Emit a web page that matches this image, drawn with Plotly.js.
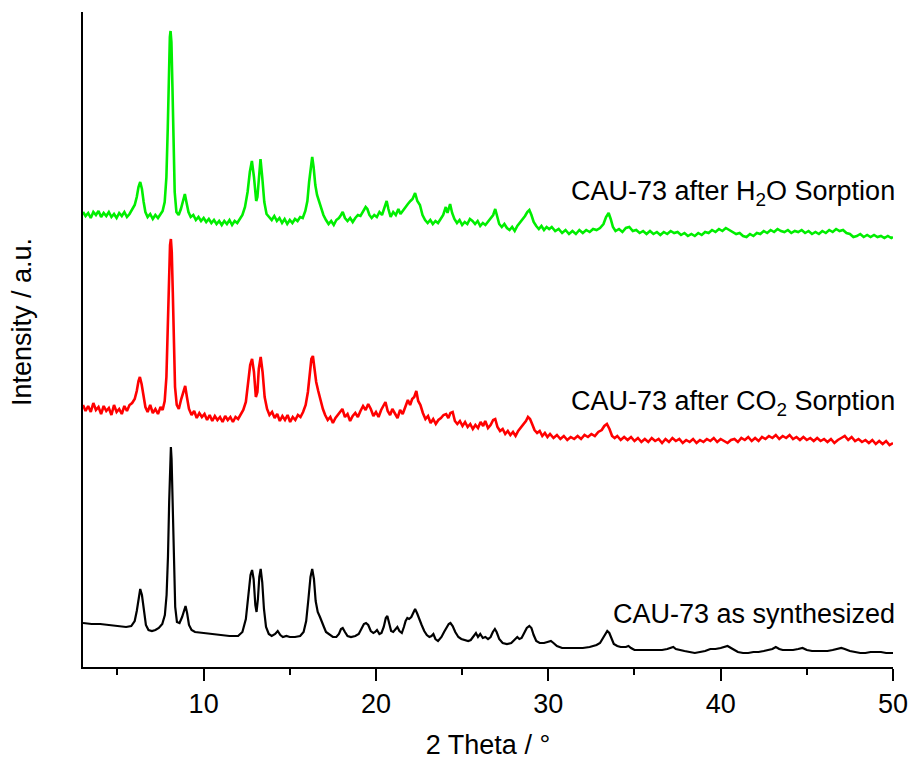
<!DOCTYPE html>
<html>
<head>
<meta charset="utf-8">
<script src="https://cdn.plot.ly/plotly-3.0.1.min.js"></script>
<style>html,body{margin:0;padding:0;background:#fff;}#chart{width:914px;height:760px;}</style>
</head>
<body>
<div id="chart"></div>
<script>
// [2 Theta (deg), stacked intensity (a.u.)]
const synthPoints = [[3.0,44],[3.5,43],[4.0,43],[4.5,42],[5.0,41],[5.5,40],[5.8,41],[6.0,46],[6.12,56],[6.22,70],[6.32,78],[6.42,72],[6.52,56],[6.65,42],[6.8,37],[7.0,36],[7.2,37],[7.4,39],[7.6,43],[7.75,52],[7.85,72],[7.93,110],[8.0,165],[8.06,210],[8.1,220],[8.14,208],[8.2,160],[8.27,100],[8.35,60],[8.45,45],[8.6,44],[8.75,50],[8.87,58],[8.95,61],[9.04,54],[9.15,42],[9.3,37],[9.5,35],[10.0,34],[10.5,33],[11.0,32],[11.5,31],[12.0,31],[12.25,35],[12.45,48],[12.6,70],[12.72,92],[12.81,97],[12.9,88],[13.0,62],[13.07,55],[13.15,68],[13.23,90],[13.31,98],[13.4,85],[13.5,58],[13.62,40],[13.78,33],[13.95,31],[14.15,33],[14.3,36],[14.45,32],[14.6,30],[14.8,31],[15.0,30],[15.3,30],[15.6,31],[15.8,35],[15.95,46],[16.08,68],[16.2,90],[16.3,98],[16.4,88],[16.5,66],[16.62,55],[16.75,50],[16.86,46],[16.98,40],[17.1,35],[17.3,32],[17.5,30],[17.7,30],[17.85,33],[17.97,38],[18.07,39],[18.2,35],[18.35,31],[18.55,30],[18.8,31],[19.0,33],[19.15,38],[19.3,43],[19.42,44],[19.55,42],[19.7,36],[19.85,34],[19.95,35],[20.06,37],[20.2,33],[20.32,34],[20.45,40],[20.57,49],[20.66,51],[20.76,45],[20.88,36],[21.0,35],[21.12,38],[21.24,40],[21.36,36],[21.5,34],[21.62,40],[21.72,46],[21.82,49],[21.92,48],[22.05,50],[22.17,55],[22.27,58],[22.38,54],[22.5,48],[22.65,42],[22.8,36],[22.95,32],[23.1,30],[23.22,31],[23.33,33],[23.45,28],[23.6,26],[23.8,30],[23.95,35],[24.1,40],[24.22,43],[24.32,44],[24.45,41],[24.6,35],[24.78,30],[24.95,28],[25.15,27],[25.35,26],[25.5,27],[25.65,30],[25.8,34],[25.92,30],[26.05,33],[26.2,29],[26.35,30],[26.5,28],[26.65,30],[26.78,35],[26.9,38],[27.0,35],[27.15,28],[27.35,24],[27.6,23],[27.85,24],[28.05,27],[28.2,30],[28.32,28],[28.45,29],[28.6,34],[28.75,39],[28.9,41],[29.02,39],[29.15,32],[29.3,26],[29.5,24],[29.75,24],[29.95,25],[30.15,26],[30.3,24],[30.5,21],[30.8,19],[31.2,19],[31.6,19],[32.0,19],[32.4,20],[32.8,22],[33.0,24],[33.15,28],[33.3,33],[33.42,36],[33.54,34],[33.66,28],[33.8,23],[34.0,21],[34.2,20],[34.5,20],[34.65,21],[34.8,19],[35.0,17],[35.4,17],[35.8,17],[36.2,17],[36.6,17],[36.9,18],[37.1,19],[37.25,20],[37.4,18],[37.6,17],[37.9,16],[38.2,15],[38.5,14],[38.8,15],[39.1,16],[39.4,18],[39.7,18],[40.0,19],[40.2,20],[40.4,21],[40.6,19],[40.8,17],[41.0,15],[41.3,14],[41.6,14],[41.9,15],[42.2,15],[42.5,16],[42.8,17],[43.0,18],[43.2,20],[43.4,18],[43.6,17],[43.9,17],[44.2,17],[44.5,18],[44.75,19],[45.0,17],[45.3,16],[45.6,16],[45.9,16],[46.2,16],[46.5,17],[46.8,18],[47.0,19],[47.2,18],[47.5,16],[47.8,15],[48.1,14],[48.4,14],[48.7,15],[49.0,15],[49.3,15],[49.6,14],[50.0,14]];

const co2Points = [[3.0,262],[3.15,256],[3.3,261],[3.45,255],[3.6,264],[3.75,257],[3.9,260],[4.05,253],[4.2,261],[4.35,256],[4.5,259],[4.65,252],[4.8,262],[4.95,255],[5.1,258],[5.25,253],[5.4,261],[5.55,256],[5.7,262],[5.85,264],[6.0,268],[6.12,276],[6.22,286],[6.3,290],[6.4,283],[6.5,270],[6.62,260],[6.75,255],[6.9,262],[7.05,254],[7.2,258],[7.35,253],[7.5,260],[7.62,257],[7.74,266],[7.84,290],[7.92,340],[7.98,390],[8.05,422],[8.1,428],[8.15,415],[8.21,375],[8.27,320],[8.34,280],[8.44,262],[8.56,258],[8.7,268],[8.82,276],[8.93,281],[9.03,270],[9.15,258],[9.3,252],[9.45,256],[9.6,249],[9.75,254],[9.9,250],[10.05,253],[10.2,247],[10.35,252],[10.5,246],[10.65,251],[10.8,247],[10.95,250],[11.1,245],[11.25,251],[11.4,247],[11.55,250],[11.7,245],[11.85,250],[12.0,248],[12.15,252],[12.3,257],[12.45,265],[12.58,285],[12.7,302],[12.81,308],[12.92,295],[13.03,270],[13.12,275],[13.2,298],[13.31,310],[13.42,295],[13.54,270],[13.68,258],[13.82,252],[13.97,255],[14.12,249],[14.27,253],[14.42,246],[14.57,251],[14.72,247],[14.87,252],[15.02,245],[15.17,250],[15.32,247],[15.47,252],[15.62,250],[15.77,255],[15.92,262],[16.05,275],[16.15,295],[16.25,308],[16.34,311],[16.43,300],[16.53,285],[16.65,276],[16.78,266],[16.92,258],[17.05,252],[17.2,247],[17.35,250],[17.5,244],[17.65,249],[17.8,252],[17.95,255],[18.05,258],[18.2,250],[18.35,253],[18.5,246],[18.65,251],[18.8,254],[18.95,250],[19.1,256],[19.25,261],[19.4,257],[19.55,263],[19.7,258],[19.85,251],[20.0,255],[20.15,250],[20.3,257],[20.45,262],[20.55,265],[20.68,256],[20.82,252],[20.95,258],[21.1,254],[21.25,249],[21.4,257],[21.55,253],[21.7,260],[21.85,267],[21.98,262],[22.1,268],[22.22,270],[22.34,276],[22.45,266],[22.58,262],[22.72,254],[22.87,248],[23.02,251],[23.17,244],[23.32,248],[23.47,243],[23.62,247],[23.77,249],[23.92,252],[24.07,253],[24.2,249],[24.32,254],[24.45,255],[24.58,246],[24.72,243],[24.87,246],[25.02,241],[25.17,245],[25.32,240],[25.47,243],[25.62,238],[25.77,242],[25.92,239],[26.07,245],[26.22,241],[26.34,246],[26.5,239],[26.65,242],[26.8,247],[26.92,248],[27.05,240],[27.2,236],[27.35,238],[27.5,233],[27.65,236],[27.8,232],[27.95,235],[28.1,231],[28.25,236],[28.4,239],[28.55,243],[28.7,246],[28.82,250],[28.94,248],[29.06,243],[29.2,237],[29.35,234],[29.5,236],[29.65,231],[29.8,234],[29.95,230],[30.1,233],[30.3,229],[30.5,232],[30.7,228],[30.9,231],[31.1,227],[31.3,230],[31.5,228],[31.7,231],[31.9,228],[32.1,232],[32.3,230],[32.5,233],[32.7,231],[32.9,235],[33.1,237],[33.25,241],[33.4,243],[33.55,238],[33.7,231],[33.85,229],[34.0,231],[34.2,227],[34.4,230],[34.6,227],[34.8,230],[35.0,226],[35.2,229],[35.4,225],[35.6,228],[35.8,225],[36.0,229],[36.2,226],[36.4,228],[36.6,224],[36.8,228],[37.0,225],[37.2,229],[37.4,226],[37.6,228],[37.8,224],[38.0,227],[38.2,225],[38.4,228],[38.6,224],[38.8,227],[39.0,225],[39.2,228],[39.4,226],[39.6,229],[39.8,225],[40.0,228],[40.2,226],[40.4,224],[40.6,227],[40.8,228],[41.0,225],[41.2,229],[41.4,227],[41.6,230],[41.8,226],[42.0,229],[42.2,226],[42.4,230],[42.6,228],[42.8,231],[43.0,229],[43.2,232],[43.4,228],[43.6,231],[43.8,229],[44.0,232],[44.2,228],[44.4,230],[44.6,227],[44.8,230],[45.0,227],[45.2,229],[45.4,226],[45.6,229],[45.8,226],[46.0,228],[46.2,225],[46.4,228],[46.6,224],[46.8,227],[47.0,229],[47.2,231],[47.4,227],[47.6,230],[47.8,226],[48.0,228],[48.2,225],[48.4,227],[48.6,224],[48.8,227],[49.0,223],[49.2,226],[49.4,223],[49.6,226],[49.8,222],[50.0,224]];

const h2oPoints = [[3.0,455],[3.15,451],[3.3,454],[3.45,449],[3.6,455],[3.75,452],[3.9,456],[4.05,450],[4.2,454],[4.35,451],[4.5,455],[4.65,450],[4.8,453],[4.95,449],[5.1,454],[5.25,451],[5.4,455],[5.55,450],[5.7,453],[5.85,458],[6.0,462],[6.12,470],[6.22,480],[6.32,485],[6.42,478],[6.52,465],[6.62,455],[6.75,450],[6.9,453],[7.05,448],[7.2,452],[7.35,449],[7.5,453],[7.62,456],[7.74,465],[7.84,490],[7.92,540],[7.98,595],[8.04,630],[8.08,636],[8.13,625],[8.19,580],[8.25,520],[8.32,475],[8.42,455],[8.55,452],[8.68,458],[8.8,467],[8.91,473],[9.0,465],[9.12,455],[9.25,450],[9.4,452],[9.55,447],[9.7,450],[9.85,446],[10.0,449],[10.15,445],[10.3,448],[10.45,444],[10.6,447],[10.75,443],[10.9,446],[11.05,442],[11.2,446],[11.35,443],[11.5,447],[11.65,442],[11.8,446],[11.95,444],[12.1,448],[12.25,452],[12.4,460],[12.55,475],[12.68,495],[12.8,506],[12.92,490],[13.05,466],[13.12,470],[13.2,492],[13.3,508],[13.4,490],[13.52,465],[13.65,453],[13.8,450],[13.95,447],[14.1,451],[14.25,446],[14.4,449],[14.55,444],[14.7,448],[14.85,443],[15.0,447],[15.15,444],[15.3,448],[15.45,446],[15.6,450],[15.75,449],[15.9,456],[16.02,466],[16.12,485],[16.22,503],[16.3,510],[16.38,500],[16.48,482],[16.58,472],[16.7,466],[16.82,458],[16.95,452],[17.1,447],[17.25,443],[17.4,446],[17.55,442],[17.7,447],[17.85,449],[17.97,452],[18.07,455],[18.2,449],[18.35,446],[18.5,449],[18.65,445],[18.8,449],[18.95,452],[19.1,451],[19.25,455],[19.4,460],[19.5,458],[19.62,452],[19.75,449],[19.9,452],[20.05,450],[20.2,455],[20.35,452],[20.5,460],[20.62,466],[20.72,458],[20.85,450],[21.0,455],[21.15,452],[21.3,458],[21.42,453],[21.55,456],[21.7,460],[21.85,463],[22.0,466],[22.12,468],[22.27,474],[22.4,466],[22.55,462],[22.7,452],[22.85,447],[23.0,444],[23.15,447],[23.3,443],[23.45,446],[23.6,444],[23.75,448],[23.9,452],[24.05,460],[24.15,454],[24.3,463],[24.42,454],[24.55,448],[24.7,444],[24.85,447],[25.0,442],[25.15,445],[25.3,443],[25.45,448],[25.6,446],[25.75,443],[25.9,446],[26.05,441],[26.2,444],[26.35,442],[26.5,445],[26.65,448],[26.8,452],[26.92,458],[27.02,450],[27.15,443],[27.3,440],[27.45,443],[27.6,439],[27.75,437],[27.9,440],[28.05,436],[28.2,441],[28.35,444],[28.5,447],[28.65,451],[28.78,455],[28.9,457],[29.02,452],[29.15,445],[29.3,441],[29.45,438],[29.6,441],[29.75,437],[29.9,440],[30.05,438],[30.2,440],[30.4,436],[30.6,438],[30.8,434],[31.0,437],[31.2,433],[31.4,436],[31.6,433],[31.8,437],[32.0,434],[32.2,437],[32.4,435],[32.6,438],[32.8,437],[33.0,439],[33.2,443],[33.35,450],[33.5,454],[33.62,448],[33.75,440],[33.9,436],[34.1,438],[34.3,435],[34.5,439],[34.7,440],[34.9,436],[35.1,437],[35.3,434],[35.5,436],[35.7,433],[35.9,436],[36.1,433],[36.3,435],[36.5,432],[36.7,435],[36.9,433],[37.1,436],[37.3,434],[37.5,435],[37.7,432],[37.9,434],[38.1,431],[38.3,433],[38.5,431],[38.7,434],[38.9,432],[39.1,435],[39.3,434],[39.5,437],[39.7,435],[39.9,438],[40.1,436],[40.3,439],[40.5,437],[40.7,435],[40.9,433],[41.1,434],[41.3,431],[41.5,430],[41.7,433],[41.9,431],[42.1,434],[42.3,433],[42.5,436],[42.7,434],[42.9,437],[43.1,435],[43.3,438],[43.5,436],[43.7,435],[43.9,437],[44.1,434],[44.3,436],[44.5,435],[44.7,437],[44.9,434],[45.1,436],[45.3,433],[45.5,435],[45.7,433],[45.9,436],[46.1,434],[46.3,437],[46.5,435],[46.7,438],[46.9,436],[47.1,437],[47.3,434],[47.5,433],[47.7,430],[47.9,431],[48.1,433],[48.3,430],[48.5,432],[48.7,430],[48.9,432],[49.1,430],[49.3,431],[49.5,429],[49.7,431],[49.9,429],[50.0,430]];

const seriesNames = ["CAU-73 as synthesized","CAU-73 after CO<sub>2</sub> Sorption","CAU-73 after H<sub>2</sub>O Sorption"];
const seriesColors = ['#000000','#ff0000','#00ee00'];
const labelY = [53.5, 264, 474.5];
const xTicks = [10,20,30,40,50];
const xMinorTicks = [5,15,25,35,45];

const FONT = "Arial, 'Liberation Sans', sans-serif";
const FS = 27;

const allPoints = [synthPoints, co2Points, h2oPoints];
const traces = allPoints.map((pts,i)=>({
  x: pts.map(p=>p[0]), y: pts.map(p=>p[1]), mode:'lines',
  line:{color:seriesColors[i], width: i===0 ? 2.2 : 2.6, shape:'linear'},
  name: seriesNames[i]
}));

const annotations = seriesNames.map((t,i)=>({
  text: t, xref:'paper', x:1, xanchor:'right', xshift:4,
  yref:'y', y: labelY[i], yanchor:'middle', showarrow:false,
  font:{family:FONT, size:FS, color:'#000'}
}));
annotations.push({
  text:'Intensity / a.u.', textangle:-90, xref:'paper', x:(22-83)/810, xanchor:'center',
  yref:'paper', y:(667-322)/655, yanchor:'middle', showarrow:false,
  font:{family:FONT, size:FS, color:'#000'}
});

const layout = {
  width:914, height:760,
  margin:{l:83, r:21, t:12, b:93},
  paper_bgcolor:'#fff', plot_bgcolor:'#fff',
  showlegend:false,
  font:{family:FONT, size:FS, color:'#000'},
  xaxis:{
    range:[3,50], tickvals:xTicks, ticktext:xTicks.map(String),
    ticks:'outside', ticklen:12, tickwidth:2, tickcolor:'#000',
    showline:true, linecolor:'#000', linewidth:2, showgrid:false, zeroline:false,
    minor:{tickvals:xMinorTicks, ticks:'outside', ticklen:6, tickwidth:2, tickcolor:'#000'},
    tickfont:{family:FONT, size:FS, color:'#000'},
    title:{text:'2 Theta / °', font:{family:FONT, size:FS, color:'#000'}, standoff:18}
  },
  yaxis:{
    range:[0,655], showticklabels:false, ticks:'', showline:true, linecolor:'#000', linewidth:2,
    showgrid:false, zeroline:false
  },
  annotations: annotations
};

Plotly.newPlot('chart', traces, layout, {displayModeBar:false, staticPlot:true});
</script>
</body>
</html>
